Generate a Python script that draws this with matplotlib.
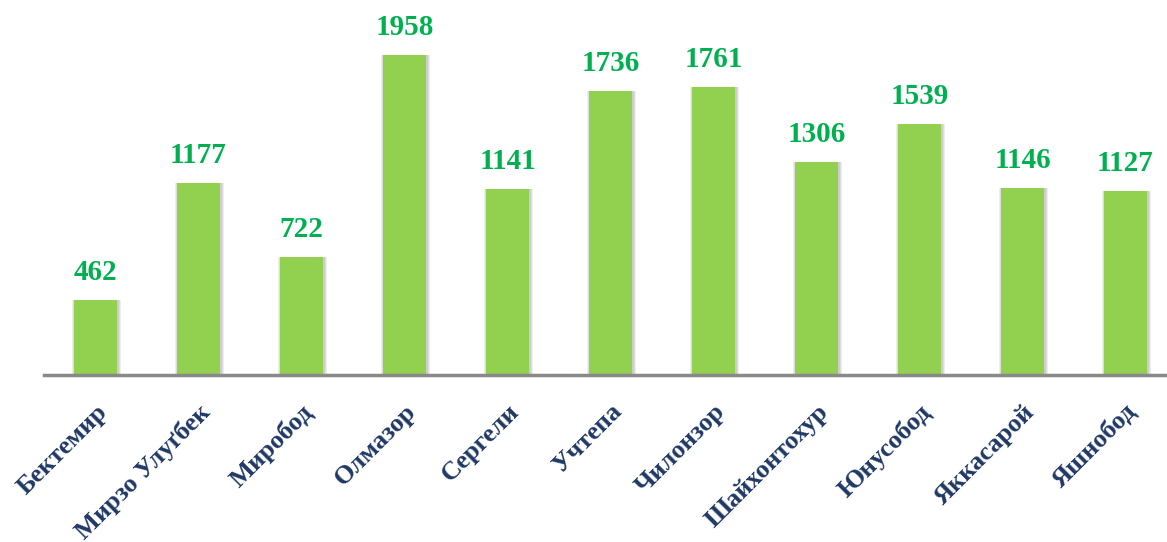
import matplotlib
matplotlib.use("Agg")
import matplotlib.pyplot as plt
import numpy as np

categories = ["Бектемир", "Мирзо Улуґбек", "Миробод", "Олмазор", "Сергели", "Учтепа",
              "Чилонзор", "Шайхонтохур", "Юнусобод", "Яккасарой", "Яшнобод"]
values = [462, 1177, 722, 1958, 1141, 1736, 1761, 1306, 1539, 1146, 1127]

W, H = 1167, 542
fig = plt.figure(figsize=(W / 100, H / 100), dpi=100)
ax = fig.add_axes([44 / W, (H - 375) / H, (W - 44) / W, 375 / H])

x = np.arange(len(categories))
bw = 0.42
# soft shadow layers
for dx, extra, a in [(0.012, 0.06, 0.25), (0.01, 0.04, 0.35), (0.008, 0.02, 0.5)]:
    ax.bar(x + dx, values, width=bw + extra, color="#bfbfbf", alpha=a, zorder=1, linewidth=0)
ax.bar(x, values, width=bw, color="#92D050", zorder=2, linewidth=0)

for xi, v in zip(x, values):
    ax.annotate(str(v), (xi, v), xytext=(0, 10), textcoords="offset points",
                ha="center", va="bottom", fontsize=21, fontweight="bold",
                family="Liberation Serif", color="#00B050")

ax.set_xlim(-0.5, -0.5 + (W - 44) / 103.0)
ax.set_ylim(0, 375 / 0.1634)
ax.set_xticks(x)
ax.set_xticklabels(categories, rotation=45, ha="right", rotation_mode="anchor",
                   fontsize=19, fontweight="bold", family="Liberation Serif", color="#1F3864")
ax.tick_params(axis="x", length=0, pad=18)
ax.set_yticks([])
for s in ["top", "right", "left"]:
    ax.spines[s].set_visible(False)
ax.spines["bottom"].set_color("#898989")
ax.spines["bottom"].set_linewidth(2.5)
ax.spines["bottom"].set_zorder(3)
ax.set_facecolor("white")

fig.savefig("out.png", dpi=100)
